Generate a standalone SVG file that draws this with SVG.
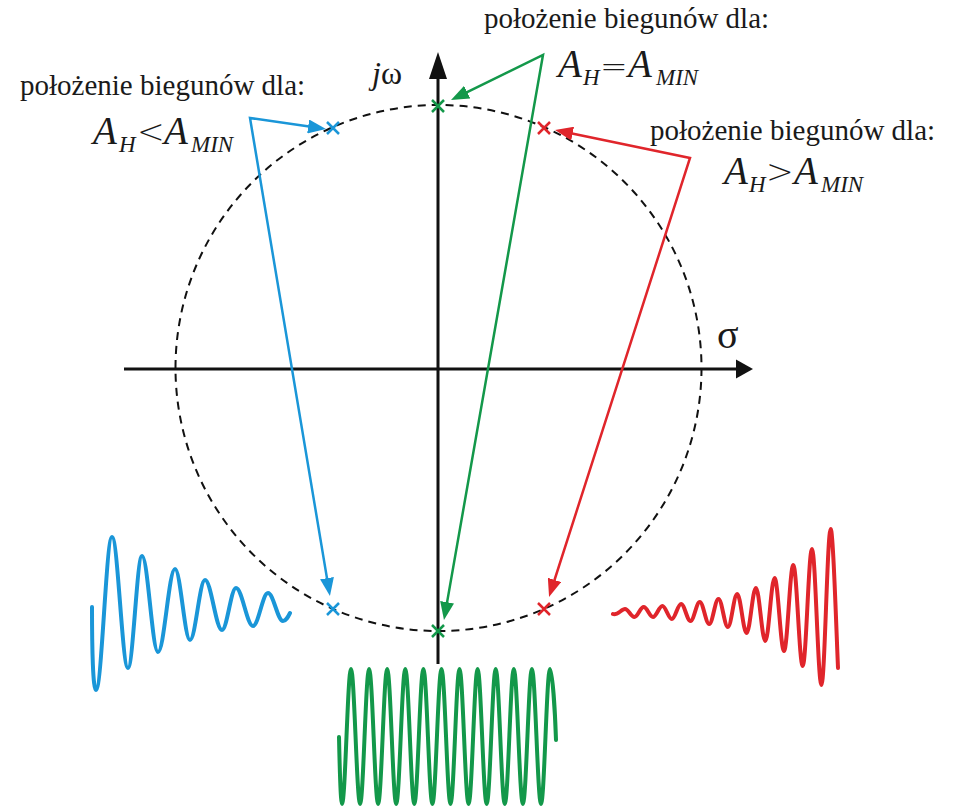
<svg xmlns="http://www.w3.org/2000/svg" width="959" height="807" viewBox="0 0 959 807">
<style>
.lbl{font-family:'Liberation Serif',serif;font-size:29px;fill:#1a1a1a}
.big{font-family:'Liberation Serif',serif;font-style:italic;font-size:39px;fill:#1a1a1a}
.sub{font-family:'Liberation Serif',serif;font-style:italic;font-size:23px;fill:#1a1a1a}
.rel{font-family:'DejaVu Sans',sans-serif;font-weight:200;font-size:33px;fill:#1a1a1a}
.axis{stroke:#111;stroke-width:3;fill:none}
.circ{stroke:#111;stroke-width:2;fill:none;stroke-dasharray:8 6}
.pole{stroke-width:2.5;fill:none}
.wave{stroke-width:4;fill:none;stroke-linejoin:round;stroke-linecap:round}
.conn{stroke-width:2.5;fill:none}
</style>
<defs>
<marker id="ab" viewBox="0 0 18 14" refX="8" refY="7" markerWidth="18" markerHeight="14" markerUnits="userSpaceOnUse" orient="auto-start-reverse"><path d="M0,0 L18,7 L0,14 z" fill="#1a96d8"/></marker>
<marker id="ag" viewBox="0 0 18 14" refX="8" refY="7" markerWidth="18" markerHeight="14" markerUnits="userSpaceOnUse" orient="auto-start-reverse"><path d="M0,0 L18,7 L0,14 z" fill="#13984a"/></marker>
<marker id="ar" viewBox="0 0 18 14" refX="8" refY="7" markerWidth="18" markerHeight="14" markerUnits="userSpaceOnUse" orient="auto-start-reverse"><path d="M0,0 L18,7 L0,14 z" fill="#e0252b"/></marker>
</defs>
<rect width="959" height="807" fill="#fff"/>

<g id="axes">
<line class="axis" x1="124" y1="369" x2="740" y2="369"/>
<polygon points="753,369 736,359.5 736,378.5" fill="#111"/>
<line class="axis" x1="438" y1="664" x2="438" y2="76"/>
<polygon points="438,52 429,79 447,79" fill="#111"/>
<text x="372" y="84" font-family="'Liberation Serif', serif" font-size="32" fill="#1a1a1a"><tspan font-style="italic">j</tspan><tspan>ω</tspan></text>
<text x="717" y="348" font-family="'Liberation Serif', serif" font-size="40" fill="#1a1a1a">σ</text>
</g>

<g id="circle">
<circle class="circ" cx="438.5" cy="368" r="263"/>
</g>

<g id="poles">
<g id="pole-blue-top" stroke="#1a96d8"><path class="pole" d="M327,122 l12,12 M339,122 l-12,12"/></g>
<g id="pole-blue-bottom" stroke="#1a96d8"><path class="pole" d="M327,603 l12,12 M339,603 l-12,12"/></g>
<g id="pole-green-top" stroke="#13984a"><path class="pole" d="M432,100 l12,12 M444,100 l-12,12"/></g>
<g id="pole-green-bottom" stroke="#13984a"><path class="pole" d="M432,625 l12,12 M444,625 l-12,12"/></g>
<g id="pole-red-top" stroke="#e0252b"><path class="pole" d="M538,122 l12,12 M550,122 l-12,12"/></g>
<g id="pole-red-bottom" stroke="#e0252b"><path class="pole" d="M538,603 l12,12 M550,603 l-12,12"/></g>
</g>

<g id="connectors">
<path class="conn" stroke="#1a96d8" d="M316.1,127.6 L250,118 L328.3,586.1" marker-start="url(#ab)" marker-end="url(#ab)"/>
<path class="conn" stroke="#13984a" d="M460,95.6 L543,55 L445.7,610.1" marker-start="url(#ag)" marker-end="url(#ag)"/>
<path class="conn" stroke="#e0252b" d="M564.8,132 L690,158 L552.1,587.5" marker-start="url(#ar)" marker-end="url(#ar)"/>
</g>

<g id="label-less">
<text class="lbl" x="20" y="95">położenie biegunów dla:</text>
<text class="big" x="93" y="144">A</text>
<text class="sub" x="119" y="152">H</text>
<text class="rel" x="137" y="143">&lt;</text>
<text class="big" x="164" y="144">A</text>
<text class="sub" x="191" y="152">MIN</text>
</g>

<g id="label-equal">
<text class="lbl" x="484" y="28">położenie biegunów dla:</text>
<text class="big" x="558" y="77">A</text>
<text class="sub" x="583" y="85">H</text>
<text class="rel" x="600" y="78">=</text>
<text class="big" x="628" y="77">A</text>
<text class="sub" x="656" y="85">MIN</text>
</g>

<g id="label-greater">
<text class="lbl" x="650" y="140">położenie biegunów dla:</text>
<text class="big" x="724" y="184">A</text>
<text class="sub" x="749" y="192">H</text>
<text class="rel" x="766" y="183">&gt;</text>
<text class="big" x="794" y="184">A</text>
<text class="sub" x="821" y="192">MIN</text>
</g>

<g id="wave-blue">
<path class="wave" stroke="#1a96d8" d="M92,607 C92,650 93,690 96,690 C101.8,690 106.2,537 112,537 C117.8,537 122.2,668 128,668 C133,668 137,556 142,556 C147.8,556 152.2,652 158,652 C164.1,652 168.9,569 175,569 C180.4,569 184.6,640 190,640 C195.4,640 199.6,580 205,580 C211.1,580 215.9,630 222,630 C227,630 231,588 236,588 C242.1,588 246.9,626 253,626 C258.4,626 262.6,593 268,593 C273.4,593 277.6,621 283,621 C286,621 288,617 290,613"/>
</g>

<g id="wave-green">
<path class="wave" stroke="#13984a" d="M339,737 C339.6,765 340.6,804 342,804 C345.3,804 347.7,669 351,669 C354.3,669 356.8,804 360.1,804 C363.3,804 365.8,669 369.1,669 C372.4,669 374.9,804 378.1,804 C381.4,804 383.9,669 387.2,669 C390.5,669 393,804 396.2,804 C399.5,804 402,669 405.3,669 C408.6,669 411.1,804 414.3,804 C417.6,804 420.1,669 423.4,669 C426.7,669 429.2,804 432.4,804 C435.7,804 438.2,669 441.5,669 C444.8,669 447.3,804 450.5,804 C453.8,804 456.3,669 459.5,669 C462.8,669 465.3,804 468.6,804 C471.9,804 474.4,669 477.6,669 C480.9,669 483.4,804 486.7,804 C490,804 492.5,669 495.7,669 C499,669 501.5,804 504.8,804 C508.1,804 510.6,669 513.8,669 C517.1,669 519.6,804 522.9,804 C526.2,804 528.7,669 531.9,669 C535.2,669 537.7,804 541,804 C544.3,804 546.7,669 550,669 C552.2,669 555,710 556,740"/>
</g>

<g id="wave-red">
<path class="wave" stroke="#e0252b" d="M613,614 C617,616 621.6,609 625,609 C628.4,609 631,617 634.4,617 C637.8,617 640.3,607 643.7,607 C647.1,607 649.6,617 653,617 C656.4,617 659,606 662.4,606 C665.8,606 668.4,619 671.8,619 C675.2,619 677.7,604 681.1,604 C684.5,604 687.1,621 690.5,621 C693.9,621 696.4,602 699.8,602 C703.2,602 705.8,624 709.2,624 C712.6,624 715.1,599 718.5,599 C721.9,599 724.5,627 727.9,627 C731.3,627 733.8,594 737.2,594 C740.6,594 743.2,633 746.6,633 C750,633 752.5,588 755.9,588 C759.3,588 761.9,641 765.3,641 C768.7,641 771.2,578 774.6,578 C778,578 780.6,651 784,651 C787.4,651 789.9,565 793.3,565 C796.7,565 799.3,666 802.7,666 C806.1,666 808.6,549 812,549 C815.4,549 818,685 821.4,685 C824.8,685 827.3,529 830.7,529 C833,529 836,620 838,668"/>
</g>
</svg>
